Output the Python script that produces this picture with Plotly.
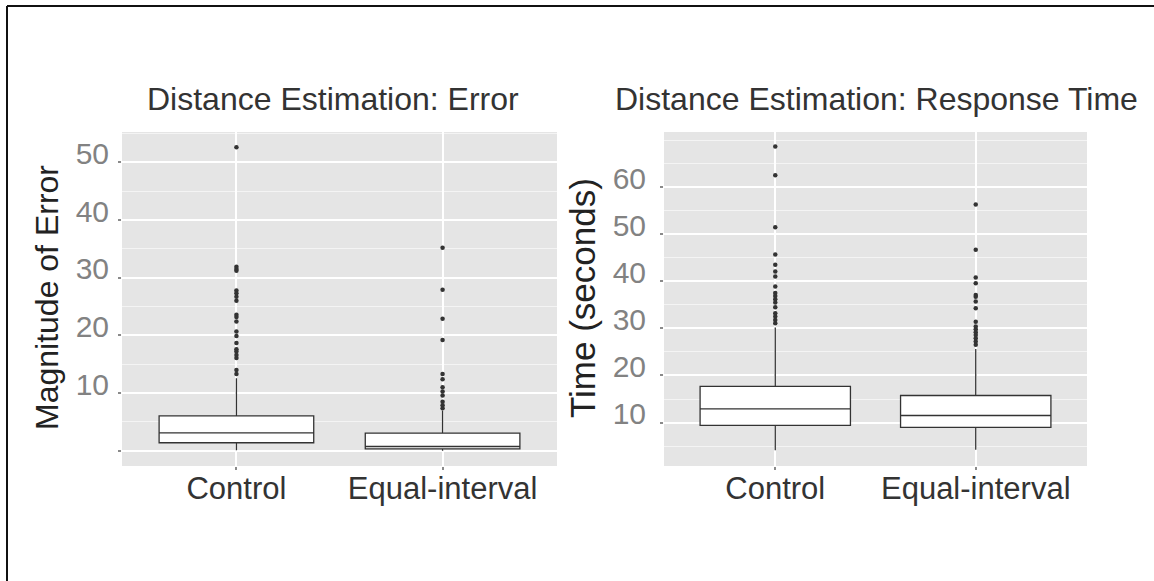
import plotly.graph_objects as go

# ---------------- data ----------------
categories = ["Control", "Equal-interval"]

# Left panel: magnitude of error
err_q1 = [1.4, 0.35]
err_median = [3.1, 0.75]
err_q3 = [6.07, 3.06]
err_lower = [0.1, 0.0]
err_upper = [12.6, 7.0]
err_out_control = [52.6, 31.9, 31.5, 31.2, 27.8, 27.3, 26.7, 26.0, 23.6, 23.2,
                   22.4, 20.7, 19.9, 18.7, 17.6, 17.2, 16.6, 16.1, 14.0, 13.3]
err_out_equal = [35.2, 27.9, 22.9, 19.2, 13.3, 12.4, 11.0, 10.3, 9.6, 8.5, 7.9, 7.4]
err_tickvals = [0, 10, 20, 30, 40, 50]
err_ticktext = ["", "10", "20", "30", "40", "50"]

# Right panel: response time
rt_q1 = [9.4, 9.0]
rt_median = [12.9, 11.5]
rt_q3 = [17.7, 15.75]
rt_lower = [4.1, 4.25]
rt_upper = [30.2, 25.6]
rt_out_control = [68.6, 62.5, 51.5, 45.7, 43.5, 42.1, 41.0, 38.9, 37.5, 36.9,
                  36.2, 35.5, 34.5, 33.2, 32.5, 31.8, 31.1]
rt_out_equal = [56.3, 46.7, 40.8, 39.6, 37.1, 36.7, 35.7, 34.3, 31.4, 30.4,
                29.8, 29.2, 28.6, 27.9, 27.2, 26.5]
rt_tickvals = [10, 20, 30, 40, 50, 60]
rt_ticktext = ["10", "20", "30", "40", "50", "60"]

titles = ["Distance Estimation: Error", "Distance Estimation: Response Time"]
ytitles = ["Magnitude of Error", "Time (seconds)"]

# ---------------- layout geometry ----------------
W, H = 1154, 581
ML, MR, MT, MB = 122, 67, 132, 115
PW, PH = W - ML - MR, H - MT - MB


def px_x(px):
    return (px - ML) / PW


def px_y(py):
    return (H - MB - py) / PH


FONT = "Liberation Sans, Arial, sans-serif"
BOX_LINE = "#333333"

fig = go.Figure()

panels = [
    ("x", "y", err_q1, err_median, err_q3, err_lower, err_upper, err_out_control, err_out_equal),
    ("x2", "y2", rt_q1, rt_median, rt_q3, rt_lower, rt_upper, rt_out_control, rt_out_equal),
]
for xa, ya, q1, med, q3, lo, up, oc, oe in panels:
    fig.add_trace(go.Box(
        x=categories, q1=q1, median=med, q3=q3, lowerfence=lo, upperfence=up,
        boxpoints=False, fillcolor="white", width=0.75, whiskerwidth=0,
        line=dict(color=BOX_LINE, width=1.3), xaxis=xa, yaxis=ya, showlegend=False,
    ))
    fig.add_trace(go.Scatter(
        x=[categories[0]] * len(oc) + [categories[1]] * len(oe), y=oc + oe,
        mode="markers", marker=dict(color="#333333", size=4.5),
        xaxis=xa, yaxis=ya, showlegend=False,
    ))

xcommon = dict(
    type="category", categoryorder="array", categoryarray=categories,
    range=[-0.555, 1.555], showgrid=True, gridcolor="white", gridwidth=2,
    zeroline=False, showline=False, ticks="outside", ticklen=3, tickcolor="#8a8a8a",
    tickwidth=1.5, tickfont=dict(family=FONT, size=31, color="#333333"),
    ticklabelstandoff=-8,
)
ycommon = dict(
    showgrid=True, gridcolor="white", gridwidth=2, zeroline=False, showline=False,
    ticks="outside", ticklen=3, tickcolor="#8a8a8a", tickwidth=1.5,
    tickfont=dict(family=FONT, size=30, color="#828282"),
    tickmode="array", ticklabelshift=-9,
)

fig.update_layout(
    width=W, height=H, margin=dict(l=ML, r=MR, t=MT, b=MB),
    paper_bgcolor="white", plot_bgcolor="#E5E5E5",
    xaxis=dict(domain=[0, px_x(557)], anchor="y", **xcommon),
    xaxis2=dict(domain=[px_x(664), 1], anchor="y2", **xcommon),
    yaxis=dict(domain=[0, 1], anchor="x", range=[-2.63, 55.26],
               tickvals=err_tickvals, ticktext=err_ticktext, ticklabelstandoff=3,
               minor=dict(tick0=0, dtick=5, showgrid=True, gridcolor="#F4F4F4", gridwidth=1),
               **ycommon),
    yaxis2=dict(domain=[0, 1], anchor="x2", range=[0.78, 71.7],
                tickvals=rt_tickvals, ticktext=rt_ticktext, ticklabelstandoff=8,
                minor=dict(tick0=0, dtick=5, showgrid=True, gridcolor="#F4F4F4", gridwidth=1),
                **ycommon),
)

annotations = [
    dict(text=titles[0], x=px_x(333), y=px_y(99), xref="paper", yref="paper",
         xanchor="center", yanchor="middle", showarrow=False,
         font=dict(family=FONT, size=32, color="#333333")),
    dict(text=titles[1], x=px_x(876), y=px_y(99), xref="paper", yref="paper",
         xanchor="center", yanchor="middle", showarrow=False,
         font=dict(family=FONT, size=32, color="#333333")),
    dict(text=ytitles[0], x=px_x(47), y=px_y(298), xref="paper", yref="paper",
         xanchor="center", yanchor="middle", showarrow=False, textangle=-90,
         font=dict(family=FONT, size=32, color="#222222")),
    dict(text=ytitles[1], x=px_x(582), y=px_y(298), xref="paper", yref="paper",
         xanchor="center", yanchor="middle", showarrow=False, textangle=-90,
         font=dict(family=FONT, size=35, color="#222222")),
]
fig.update_layout(annotations=annotations)

# outer frame lines (top and left)
fig.add_shape(type="line", xref="paper", yref="paper",
              x0=px_x(7), x1=px_x(W + 2), y0=px_y(6), y1=px_y(6),
              line=dict(color="#111111", width=2))
fig.add_shape(type="line", xref="paper", yref="paper",
              x0=px_x(7), x1=px_x(7), y0=px_y(6), y1=px_y(H + 2),
              line=dict(color="#111111", width=2))

# remove the default page margin so figure pixels map to window pixels
fig.write_html("out.html", config={"displayModeBar": False},
               post_script="document.body.style.margin='0px';")
